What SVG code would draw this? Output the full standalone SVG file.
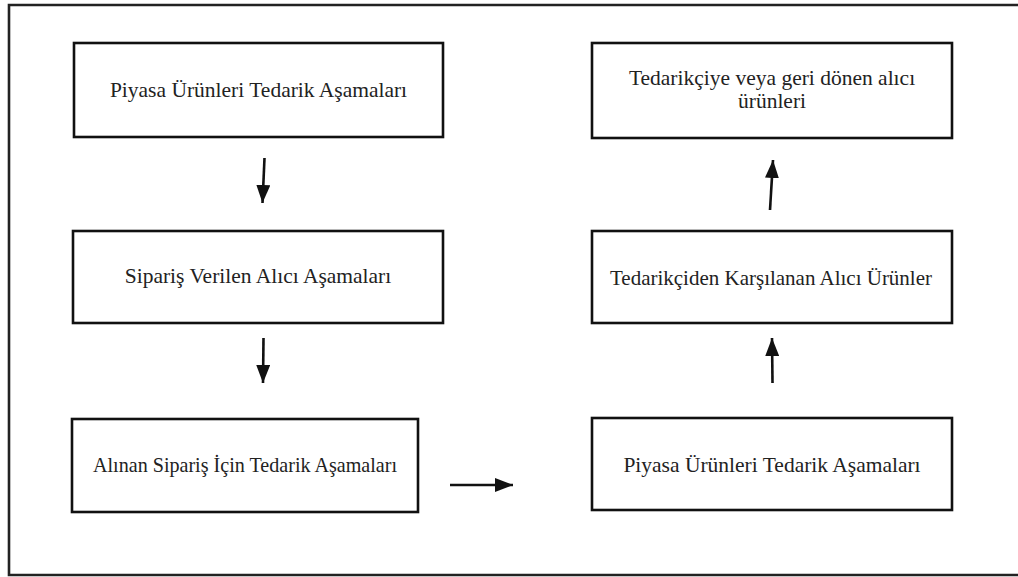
<svg xmlns="http://www.w3.org/2000/svg" width="1018" height="577" viewBox="0 0 1018 577">
<defs>
<marker id="ah" markerUnits="userSpaceOnUse" markerWidth="20" markerHeight="14" refX="18" refY="7" orient="auto">
<path d="M0,0 L18,7 L0,14 Z" fill="#111"/>
</marker>
<style>
.box{fill:#fff;stroke:#111;stroke-width:2.6}
.t{font-family:"Liberation Serif","Times New Roman",serif;font-size:21.5px;fill:#222;text-anchor:middle}
.c{stroke:#111;stroke-width:2.6;fill:none}
</style>
</defs>
<rect width="1018" height="577" fill="#fff"/>
<path d="M1018,5 H9 V575 H1018" fill="none" stroke="#222" stroke-width="2.6"/>
<g id="n1"><rect class="box" x="74" y="43" width="369" height="94"/><text class="t" x="258.5" y="97">Piyasa Ürünleri Tedarik Aşamaları</text></g>
<g id="n2"><rect class="box" x="73" y="231" width="370" height="92"/><text class="t" x="258" y="283">Sipariş Verilen Alıcı Aşamaları</text></g>
<g id="n3"><rect class="box" x="72" y="419" width="346" height="93"/><text class="t" x="245" y="472" textLength="304" lengthAdjust="spacingAndGlyphs">Alınan Sipariş İçin Tedarik Aşamaları</text></g>
<g id="n4"><rect class="box" x="592" y="418" width="360" height="92"/><text class="t" x="772" y="472">Piyasa Ürünleri Tedarik Aşamaları</text></g>
<g id="n5"><rect class="box" x="592" y="231" width="360" height="92"/><text class="t" x="771" y="285" textLength="322" lengthAdjust="spacingAndGlyphs">Tedarikçiden Karşılanan Alıcı Ürünler</text></g>
<g id="n6"><rect class="box" x="592" y="43" width="360" height="95"/><text class="t" x="772" y="85">Tedarikçiye veya geri dönen alıcı</text><text class="t" x="772" y="108">ürünleri</text></g>
<g id="connectors">
<line class="c" x1="264.5" y1="158" x2="262.5" y2="203" marker-end="url(#ah)"/>
<line class="c" x1="263.5" y1="338" x2="263" y2="383" marker-end="url(#ah)"/>
<line class="c" x1="450" y1="485" x2="513" y2="485" marker-end="url(#ah)"/>
<line class="c" x1="772.5" y1="383" x2="772" y2="338" marker-end="url(#ah)"/>
<line class="c" x1="770" y1="210" x2="773" y2="160" marker-end="url(#ah)"/>
</g>
</svg>
